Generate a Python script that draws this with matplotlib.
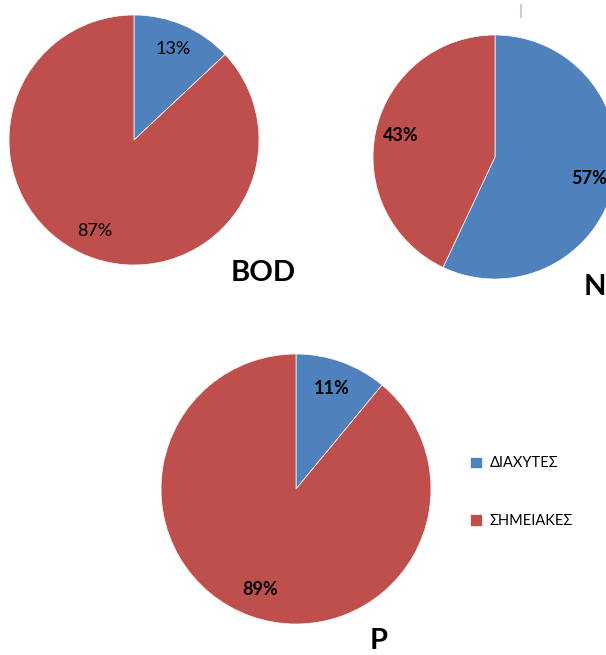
import matplotlib
matplotlib.use("Agg")
import matplotlib.pyplot as plt

# data
categories = ["ΔΙΑΧΥΤΕΣ", "ΣΗΜΕΙΑΚΕΣ"]
bod_values = [13, 87]
n_values = [57, 43]
p_values = [11, 89]
titles = ["BOD", "N", "P"]

colors = ["#4F81BD", "#BE4F4C"]
H = 655

plt.rcParams['font.family'] = ['Lato', 'DejaVu Sans']

fig = plt.figure(figsize=(6.06, 6.55), dpi=100)
ax = fig.add_axes([0, 0, 1, 1])


def draw_pie(values, cx, cy, r, bold, pd=0.78):
    wedges, texts, autotexts = ax.pie(
        values, colors=colors, startangle=90, counterclock=False,
        center=(cx, H - cy), radius=r, autopct='%1.0f%%', pctdistance=pd,
        wedgeprops=dict(linewidth=0.5, edgecolor='white'),
        textprops=dict(fontsize=13, color='black',
                       fontweight='bold' if bold else 'normal'))
    return wedges


wedges = draw_pie(bod_values, 134, 140, 125, False, 0.79)
draw_pie(n_values, 495, 157, 122, True, 0.79)
draw_pie(p_values, 296, 489, 135, True, 0.79)

ax.set_xlim(0, 606)
ax.set_ylim(0, H)
ax.set_aspect('equal')
ax.axis('off')

ax.text(263, H - 273, titles[0], fontsize=21, fontweight='bold', ha='center', va='center')
ax.text(584, H - 287, titles[1], fontsize=21, fontweight='bold', ha='left', va='center')
ax.text(379, H - 641, titles[2], fontsize=21, fontweight='bold', ha='center', va='center')

# small grey tick at the top
ax.plot([521, 521], [H - 5, H - 17], color='#cccccc', lw=1.5)

ax.legend(wedges, categories, loc='upper left', bbox_to_anchor=(463 / 606, 1 - 449 / H),
          frameon=False, fontsize=10.5, handlelength=0.8, handleheight=0.8,
          handletextpad=0.5, labelspacing=3.0, borderpad=0)

fig.savefig("out.png", dpi=100)
